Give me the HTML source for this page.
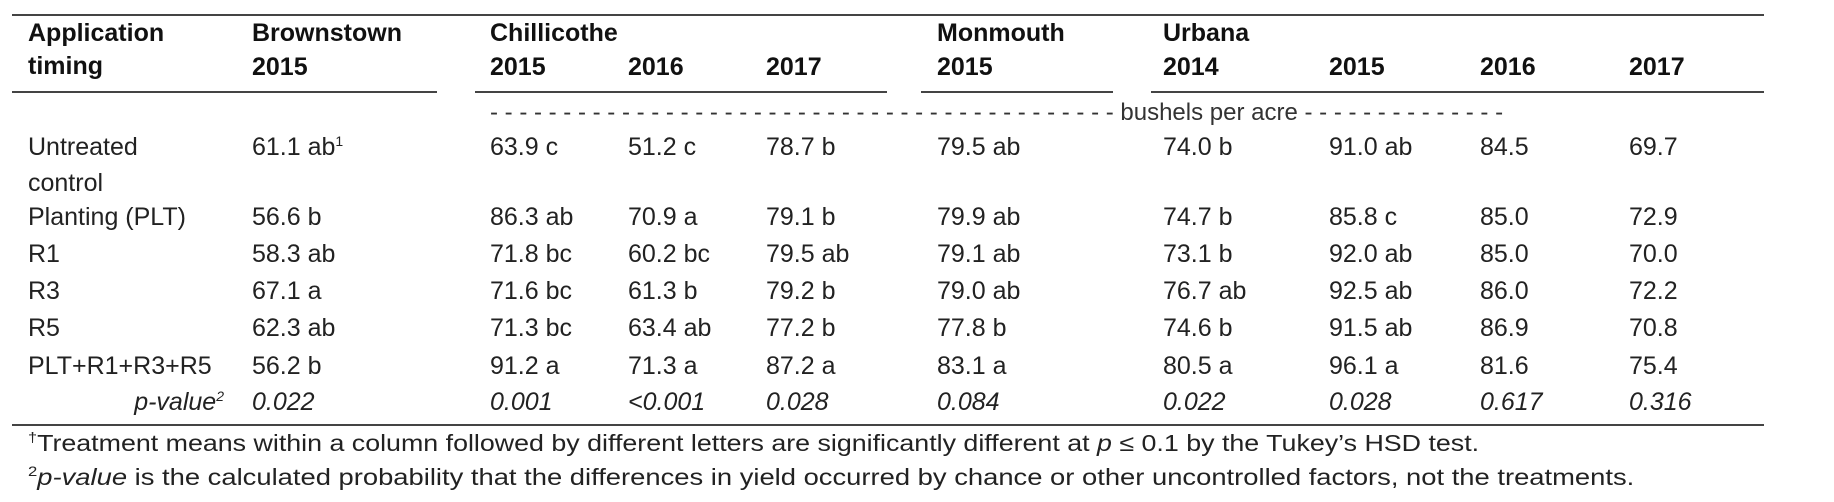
<!DOCTYPE html>
<html><head><meta charset="utf-8"><style>
body{margin:0;background:#fff;width:1834px;height:502px;position:relative;overflow:hidden;font-family:"Liberation Sans",Arial,sans-serif;color:#222;}
.t{position:absolute;font-size:25px;line-height:28px;white-space:nowrap;}
.b{font-weight:bold;color:#111;}
.i{font-style:italic;}
.r{position:absolute;height:2px;background:#444;}
sup{font-size:14px;line-height:0;vertical-align:9px;}
</style></head><body>
<div class="r" style="left:12px;top:14px;width:1752px"></div>
<div class="t b" style="left:28px;top:19px">Application</div>
<div class="t b" style="left:28px;top:52px">timing</div>
<div class="t b" style="left:252px;top:19px">Brownstown</div>
<div class="t b" style="left:490px;top:19px">Chillicothe</div>
<div class="t b" style="left:937px;top:19px">Monmouth</div>
<div class="t b" style="left:1163px;top:19px">Urbana</div>
<div class="r" style="left:12px;top:91px;width:425px"></div>
<div class="r" style="left:475px;top:91px;width:412px"></div>
<div class="r" style="left:921px;top:91px;width:192px"></div>
<div class="r" style="left:1151px;top:91px;width:613px"></div>
<div class="t" style="left:490px;top:99px;width:1020px;height:28px;overflow:hidden;font-size:24px;color:#333">- - - - - - - - - - - - - - - - - - - - - - - - - - - - - - - - - - - - - - - - - - - <span style="background:#fff">bushels per acre</span> - - - - - - - - - - - - - - - - - - - - - - - - - - - - - - - - - - - - - - - - - - - - -</div>
<div class="r" style="left:12px;top:424px;width:1752px"></div>
<div class="t" style="left:28px;top:429px;font-size:23px;transform:scaleX(1.165);transform-origin:0 0"><sup>†</sup>Treatment means within a column followed by different letters are significantly different at <span class="i">p</span> ≤ 0.1 by the Tukey’s HSD test.</div>
<div class="t" style="left:28px;top:463px;font-size:23px;transform:scaleX(1.19);transform-origin:0 0"><sup>2</sup><span class="i">p-value</span> is the calculated probability that the differences in yield occurred by chance or other uncontrolled factors, not the treatments.</div>
<script>
const colX=[252,490,628,766,937,1163,1329,1480,1629];
const years=["2015","2015","2016","2017","2015","2014","2015","2016","2017"];
const rowLabels=["Untreated","Planting (PLT)","R1","R3","R5","PLT+R1+R3+R5"];
const rowY=[147,217,254,291,328,366];
const untreated=["61.1 ab¹","63.9 c","51.2 c","78.7 b","79.5 ab","74.0 b","91.0 ab","84.5","69.7"];
const planting=["56.6 b","86.3 ab","70.9 a","79.1 b","79.9 ab","74.7 b","85.8 c","85.0","72.9"];
const r1=["58.3 ab","71.8 bc","60.2 bc","79.5 ab","79.1 ab","73.1 b","92.0 ab","85.0","70.0"];
const r3=["67.1 a","71.6 bc","61.3 b","79.2 b","79.0 ab","76.7 ab","92.5 ab","86.0","72.2"];
const r5=["62.3 ab","71.3 bc","63.4 ab","77.2 b","77.8 b","74.6 b","91.5 ab","86.9","70.8"];
const allApps=["56.2 b","91.2 a","71.3 a","87.2 a","83.1 a","80.5 a","96.1 a","81.6","75.4"];
const pvalues=["0.022","0.001","<0.001","0.028","0.084","0.022","0.028","0.617","0.316"];
const rows=[untreated,planting,r1,r3,r5,allApps];
function add(txt,x,y,cls,name){
  const d=document.createElement('div');
  d.className='t '+cls;
  
  
  d.style.left=x+'px';d.style.top=(y-14)+'px';
  if(txt.endsWith('¹')){d.innerHTML=txt.slice(0,-1)+'<sup>1</sup>';}else{d.textContent=txt;}
  document.body.appendChild(d);
}
years.forEach((y,i)=>add(y,colX[i],67,'b','header-year'));
rowLabels.forEach((l,i)=>add(l,28,rowY[i],'','row-label'));
add('control',28,183,'','row-label-cont');
rows.forEach((r,ri)=>r.forEach((v,ci)=>add(v,colX[ci],rowY[ri],'','cell-value')));
pvalues.forEach((v,ci)=>add(v,colX[ci],402,'i','p-value-cell'));
const pl=document.createElement('div');
pl.className='t i';


pl.style.right=(1834-224)+'px';pl.style.top='388px';
pl.innerHTML='p-value<sup>2</sup>';
document.body.appendChild(pl);
</script>
</body></html>
